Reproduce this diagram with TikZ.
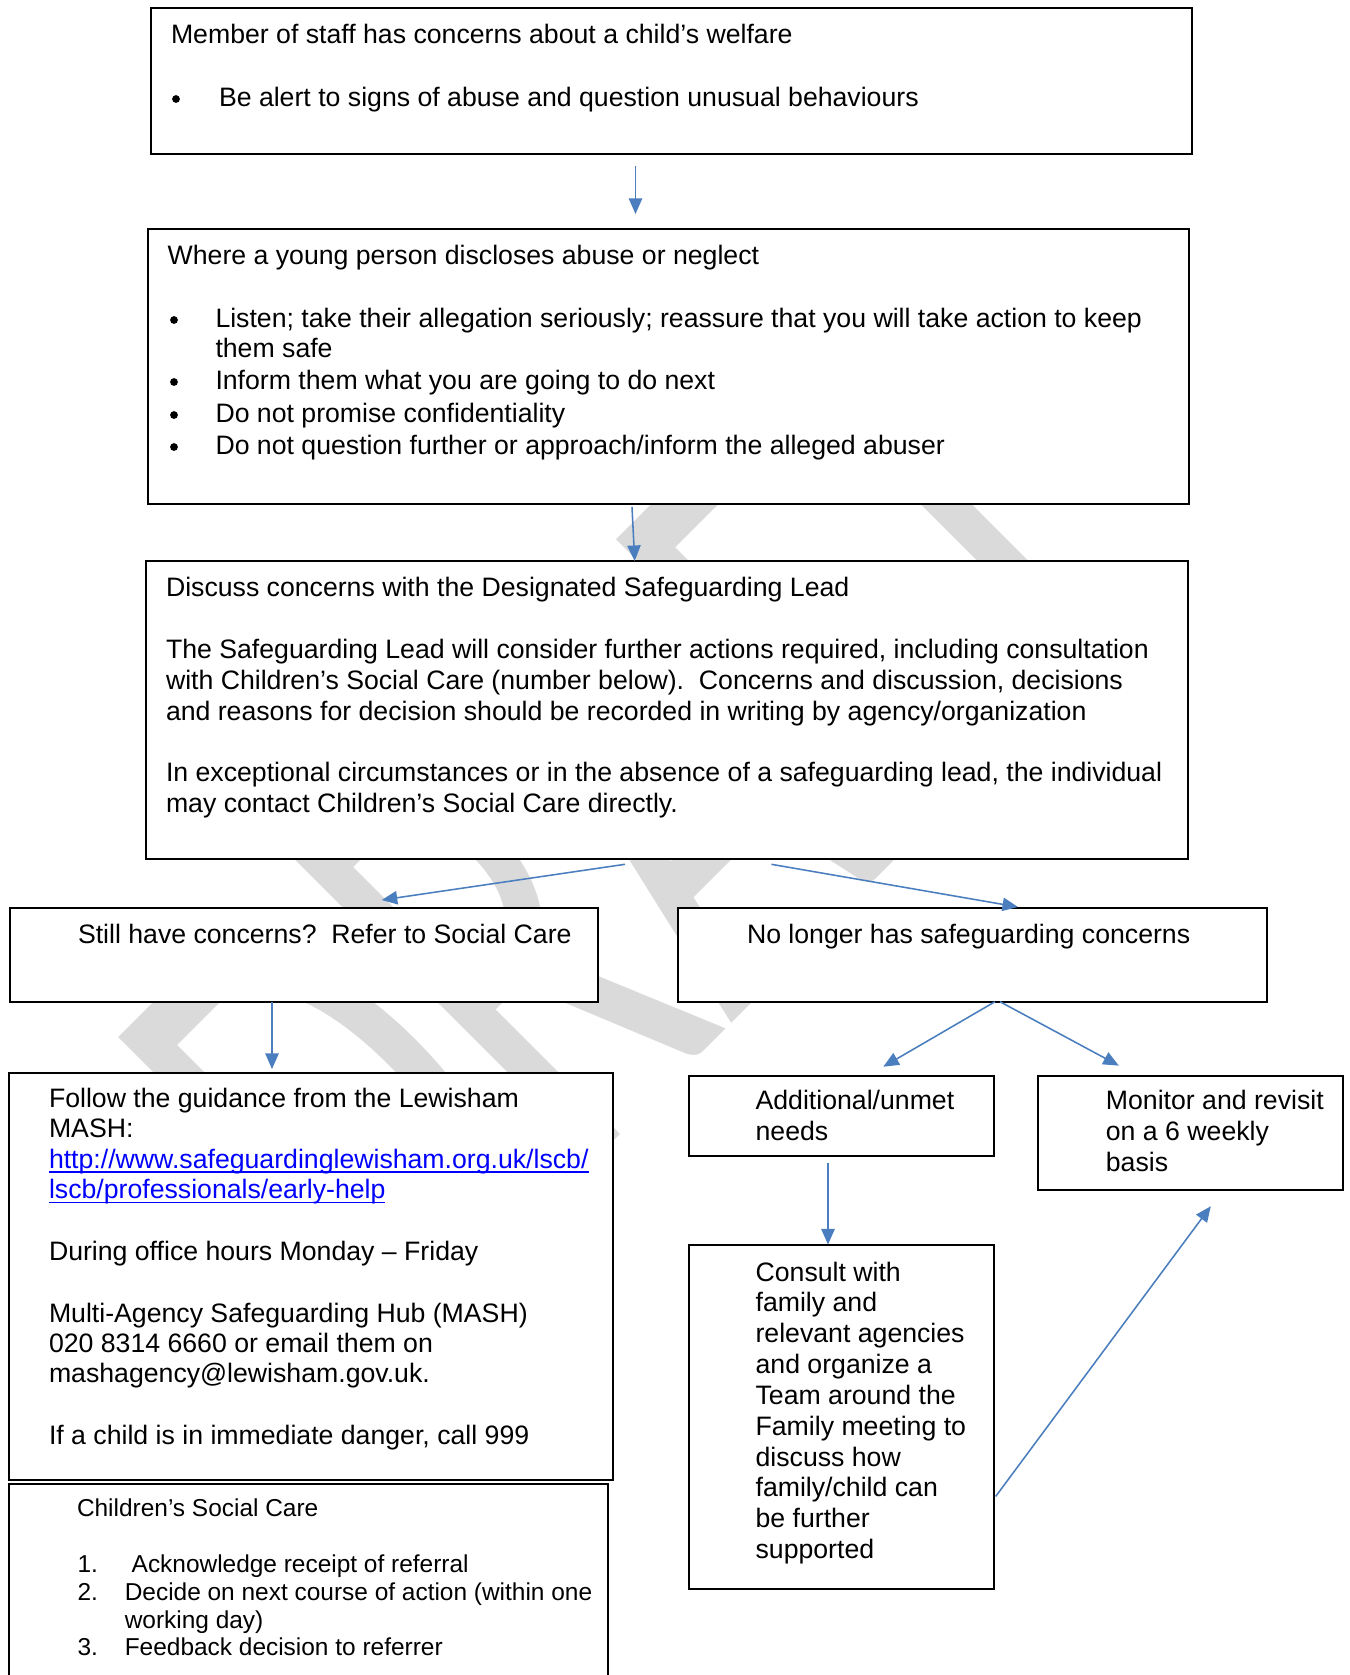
\documentclass[tikz,border=0pt]{standalone}
\usepackage{fontspec}
\setmainfont{Liberation Sans}
\newfontfamily\wmfont{Carlito}
\usetikzlibrary{arrows.meta,fit}
\definecolor{arrblue}{RGB}{74,126,190}
\definecolor{wmgray}{RGB}{218,218,218}
\definecolor{linkblue}{RGB}{0,0,255}
\frenchspacing
\begin{document}
\begin{tikzpicture}[x=0.45pt, y=-0.45pt,
  box/.style={draw=black, line width=0.9pt, fill=white, inner sep=0pt, outer sep=0pt},
  txt/.style={anchor=base west, inner sep=0pt, outer sep=0pt, font=\fontsize{12}{13.8}\selectfont},
  small/.style={anchor=base west, inner sep=0pt, outer sep=0pt, font=\fontsize{11}{12.6}\selectfont},
  bul/.style={circle, fill=black, inner sep=0pt, minimum size=3.5pt},
  arr/.style={draw=arrblue, line width=0.7pt, -{Triangle[length=7pt,width=6pt]}},
  link/.style={txt, text=linkblue},
]
\useasboundingbox (0,0) rectangle (1349,1675);
\fill[white] (0,0) rectangle (1349,1675);

% watermark
\node[rotate=45, xscale=0.615, anchor=base west, inner sep=0pt, text=wmgray,
      font=\wmfont\fontsize{297}{297}\selectfont] (wm) at (398,1357) {DRAFT};

% boxes
\coordinate (b1nw) at (150.6,7.9);   \coordinate (b1se) at (1191.9,154.3);
\node[box, fit=(b1nw)(b1se)] (b1) {};
\coordinate (b2nw) at (148,228.6);   \coordinate (b2se) at (1189.3,503.6);
\node[box, fit=(b2nw)(b2se)] (b2) {};
\coordinate (b3nw) at (146.3,561.2); \coordinate (b3se) at (1187.6,859);
\node[box, fit=(b3nw)(b3se)] (b3) {};
\coordinate (b4nw) at (10.3,907.6);  \coordinate (b4se) at (598,1002.1);
\node[box, fit=(b4nw)(b4se)] (b4) {};
\coordinate (b5nw) at (678,907.6);   \coordinate (b5se) at (1266.8,1002.1);
\node[box, fit=(b5nw)(b5se)] (b5) {};
\coordinate (b6nw) at (8.6,1072.7);  \coordinate (b6se) at (612.7,1480.4);
\node[box, fit=(b6nw)(b6se)] (b6) {};
\begin{scope}
\clip (0,0) rectangle (1349,1675);
\coordinate (b7nw) at (8.6,1483.6);  \coordinate (b7se) at (607.6,1700);
\node[box, fit=(b7nw)(b7se)] (b7) {};
\end{scope}
\coordinate (b8nw) at (688.5,1076);  \coordinate (b8se) at (994,1155.6);
\node[box, fit=(b8nw)(b8se)] (b8) {};
\coordinate (b9nw) at (1037.9,1076); \coordinate (b9se) at (1342.5,1189.5);
\node[box, fit=(b9nw)(b9se)] (b9) {};
\coordinate (b10nw) at (688.5,1245.3); \coordinate (b10se) at (994,1588.9);
\node[box, fit=(b10nw)(b10se)] (b10) {};

% box 1 text
\node[txt] (t1a) at (171,43.5) {Member of staff has concerns about a child’s welfare};
\node[bul] (d1a) at (176,99) {};
\node[txt] (t1b) at (219,106) {Be alert to signs of abuse and question unusual behaviours};

% box 2 text
\node[txt] (t2a) at (167.7,264) {Where a young person discloses abuse or neglect};
\node[bul] (d2a) at (174,320) {};
\node[txt] (t2b) at (215.5,327) {Listen; take their allegation seriously; reassure that you will take action to keep};
\node[txt] (t2c) at (215.5,357) {them safe};
\node[bul] (d2b) at (174,382) {};
\node[txt] (t2d) at (215.5,389) {Inform them what you are going to do next};
\node[bul] (d2c) at (174,415) {};
\node[txt] (t2e) at (215.5,422) {Do not promise confidentiality};
\node[bul] (d2d) at (174,447) {};
\node[txt] (t2f) at (215.5,454) {Do not question further or approach/inform the alleged abuser};

% box 3 text
\node[txt] (t3a) at (166,596.4) {Discuss concerns with the Designated Safeguarding Lead};
\node[txt] (t3b) at (166,658.8) {The Safeguarding Lead will consider further actions required, including consultation};
\node[txt] (t3c) at (166,689.4) {with Children’s Social Care (number below).\ \ Concerns and discussion, decisions};
\node[txt] (t3d) at (166,720) {and reasons for decision should be recorded in writing by agency/organization};
\node[txt] (t3e) at (166,781) {In exceptional circumstances or in the absence of a safeguarding lead, the individual};
\node[txt] (t3f) at (166,812) {may contact Children’s Social Care directly.};

% box 4, 5 text
\node[txt] (t4) at (78,943) {Still have concerns?\ \ Refer to Social Care};
\node[txt] (t5) at (747,943) {No longer has safeguarding concerns};

% box 6 text
\node[txt] (t6a) at (49,1107) {Follow the guidance from the Lewisham};
\node[txt] (t6b) at (49,1137) {MASH:};
\node[link] (u1) at (49,1168) {http://www.safeguardinglewisham.org.uk/lscb/};
\node[link] (u2) at (49,1198.5) {lscb/professionals/early-help};
\draw[linkblue, line width=0.55pt] ([yshift=-1.8pt]u1.base west) -- ([yshift=-1.8pt]u1.base east);
\draw[linkblue, line width=0.55pt] ([yshift=-1.8pt]u2.base west) -- ([yshift=-1.8pt]u2.base east);
\node[txt] (t6c) at (49,1260) {During office hours Monday – Friday};
\node[txt] (t6d) at (49,1322) {Multi-Agency Safeguarding Hub (MASH)};
\node[txt] (t6e) at (49,1352) {020 8314 6660 or email them on};
\node[txt] (t6f) at (49,1382.5) {mashagency@lewisham.gov.uk.};
\node[txt] (t6g) at (49,1444) {If a child is in immediate danger, call 999};

% box 7 text
\node[small] (t7a) at (77,1516.3) {Children’s Social Care};
\node[small] (n7a) at (77.5,1572) {1.};
\node[small] (t7b) at (131.7,1572) {Acknowledge receipt of referral};
\node[small] (n7b) at (77.5,1600) {2.};
\node[small] (t7c) at (124.8,1600) {Decide on next course of action (within one};
\node[small] (t7d) at (124.8,1628) {working day)};
\node[small] (n7c) at (77.5,1655) {3.};
\node[small] (t7e) at (124.8,1655) {Feedback decision to referrer};

% box 8, 9 text
\node[txt] (t8a) at (755.6,1109.8) {Additional/unmet};
\node[txt] (t8b) at (755.6,1140.9) {needs};
\node[txt] (t9a) at (1105.9,1109.8) {Monitor and revisit};
\node[txt] (t9b) at (1105.9,1140.9) {on a 6 weekly};
\node[txt] (t9c) at (1105.9,1171.6) {basis};

% box 10 text
\node[txt] (t10a) at (755.6,1281.2) {Consult with};
\node[txt] (t10b) at (755.6,1311.9) {family and};
\node[txt] (t10c) at (755.6,1342.9) {relevant agencies};
\node[txt] (t10d) at (755.6,1373.6) {and organize a};
\node[txt] (t10e) at (755.6,1404.7) {Team around the};
\node[txt] (t10f) at (755.6,1435.4) {Family meeting to};
\node[txt] (t10g) at (755.6,1466.5) {discuss how};
\node[txt] (t10h) at (755.6,1496.4) {family/child can};
\node[txt] (t10i) at (755.6,1527.5) {be further};
\node[txt] (t10j) at (755.6,1558.2) {supported};

% connectors
\coordinate (a1s) at (635.5,166);   \coordinate (a1e) at (635.5,214);
\coordinate (a2s) at (632,507);     \coordinate (a2e) at (634.7,561);
\coordinate (a3s) at (625,864.3);   \coordinate (a3e) at (381.7,900);
\coordinate (a4s) at (771.4,864.3); \coordinate (a4e) at (1018,907);
\coordinate (a5s) at (272,1002.1);  \coordinate (a5e) at (272,1069);
\coordinate (a6s) at (995,1001.7);  \coordinate (a6e) at (883.3,1066.7);
\coordinate (a7s) at (1000,1001.7); \coordinate (a7e) at (1118.8,1065.6);
\coordinate (a8s) at (828,1162.8);  \coordinate (a8e) at (828,1244.5);
\coordinate (a9s) at (995.7,1496.4); \coordinate (a9e) at (1210.8,1206.2);
\draw[arr] (a1s) -- (a1e);
\draw[arr] (a2s) -- (a2e);
\draw[arr] (a3s) -- (a3e);
\draw[arr] (a4s) -- (a4e);
\draw[arr] (a5s) -- (a5e);
\draw[arr] (a6s) -- (a6e);
\draw[arr] (a7s) -- (a7e);
\draw[arr] (a8s) -- (a8e);
\draw[arr] (a9s) -- (a9e);
\end{tikzpicture}
\end{document}
